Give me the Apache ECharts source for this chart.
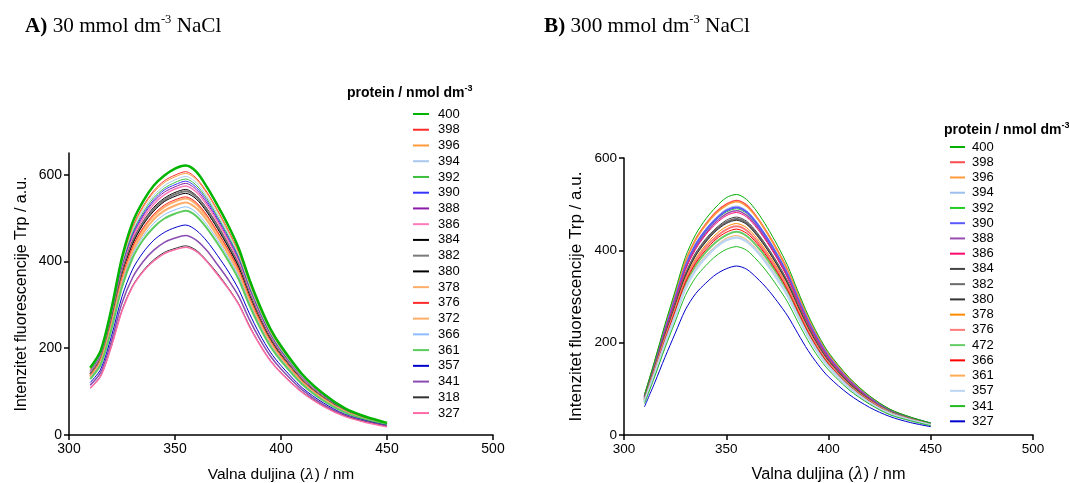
<!DOCTYPE html>
<html><head><meta charset="utf-8">
<script src="https://cdn.jsdelivr.net/npm/echarts@6/dist/echarts.min.js"></script>
<style>html,body{margin:0;padding:0;background:#fff}#c{width:1069px;height:483px}</style>
</head><body><div id="c"></div>
<script>
// shared wavelength grid (nm)
const wavelengths = [310,315,320,325,330,335,340,345,350,355,360,365,370,375,380,385,390,395,400,410,420,430,440,450];
const xTicks = [300,350,400,450,500];
const yTicksA = [0,200,400,600];
const yTicksB = [0,200,400,600];

// ---- Panel A: 30 mmol dm-3 NaCl ----
const aLabels = ['400','398','396','394','392','390','388','386','384','382','380','378','376','372','366','361','357','341','318','327'];
const a400 = [155,195,291,409,490,539,575,598,614,621,607,572,530,484,431,360,298,245,205,140,95,62,42,28];
const a398 = [152,191,285,401,480,528,563,586,599,607,592,560,519,473,422,352,291,240,200,137,93,61,41,27];
const a396 = [151,190,283,398,476,525,559,582,595,603,589,557,516,470,419,350,289,238,199,136,92,60,41,27];
const a394 = [149,188,280,393,471,519,552,575,588,596,582,550,510,465,414,346,286,235,197,135,91,60,41,27];
const a392 = [148,186,277,389,466,513,547,569,582,590,576,545,504,460,410,342,283,233,195,133,90,59,40,27];
const a390 = [146,184,275,386,462,509,542,565,577,585,571,540,500,456,407,339,281,231,193,132,90,59,40,26];
const a388 = [145,183,273,383,458,505,538,560,572,580,566,535,496,452,403,336,278,229,191,131,89,58,39,26];
const a386 = [144,181,270,379,453,499,532,554,567,574,560,530,491,448,399,333,276,227,189,130,88,57,39,26];
const a384 = [142,178,266,374,447,492,525,546,559,566,552,522,484,441,393,328,272,224,187,128,87,57,38,25];
const a382 = [140,177,264,371,444,489,521,542,555,562,549,519,481,438,391,326,270,222,185,127,86,56,38,25];
const a380 = [139,175,262,368,440,485,516,538,550,557,544,514,476,434,387,323,267,220,184,126,85,56,38,25];
const a378 = [136,172,256,360,431,474,505,526,538,545,532,503,466,425,379,316,262,215,180,123,83,55,37,25];
const a376 = [137,173,258,362,434,478,509,530,542,549,536,507,469,428,382,318,264,217,181,124,84,55,37,25];
const a372 = [134,169,252,354,423,466,497,517,529,536,523,495,458,418,373,311,257,212,177,121,82,54,36,24];
const a366 = [132,166,247,347,416,458,488,508,519,526,513,485,450,410,366,305,252,208,174,119,80,53,36,24];
const a361 = [129,163,243,341,408,450,479,499,510,517,505,477,442,403,359,300,248,204,171,117,79,52,35,23];
const a357 = [121,152,227,319,382,421,449,467,478,484,472,447,414,378,336,281,232,191,160,109,74,48,33,22];
const a341 = [115,145,216,304,363,400,426,444,454,460,449,425,393,359,320,267,221,182,152,104,70,46,31,21];
const a318 = [109,137,205,288,344,379,404,421,430,436,426,402,373,340,303,253,209,172,144,99,67,44,30,20];
const a327 = [108,136,204,286,342,377,401,418,427,433,423,400,370,338,301,251,208,171,143,98,66,43,29,19];

// ---- Panel B: 300 mmol dm-3 NaCl ----
const bLabels = ['400','398','396','394','392','390','388','386','384','382','380','378','376','472','366','361','357','341','327'];
const b400 = [87,161,239,312,385,434,468,494,514,521,510,484,450,411,367,312,260,216,179,125,85,56,39,26];
const b398 = [85,157,234,305,376,424,457,483,500,508,498,472,439,401,358,305,254,211,175,122,83,55,38,25];
const b396 = [84,157,232,303,374,422,455,480,497,505,495,470,437,399,356,303,253,210,174,121,82,55,38,25];
const b394 = [83,154,228,298,367,414,446,471,489,496,486,461,429,392,350,298,248,206,171,119,81,54,37,25];
const b392 = [82,152,225,294,363,409,441,466,483,490,480,456,424,387,345,294,245,203,169,118,80,53,37,25];
const b390 = [82,153,227,296,365,412,444,468,486,493,483,458,426,389,348,296,247,205,170,118,80,53,37,25];
const b388 = [81,151,224,292,360,406,437,462,479,486,476,452,420,384,343,292,243,202,168,117,79,52,36,24];
const b386 = [80,149,222,289,357,402,434,458,475,482,472,448,417,381,340,289,241,200,166,116,79,52,36,24];
const b384 = [79,146,217,283,349,394,425,448,465,472,463,439,408,373,333,283,236,196,163,113,77,51,35,24];
const b382 = [78,145,215,281,346,391,421,445,461,468,459,435,405,370,330,281,234,194,161,112,76,51,35,23];
const b380 = [78,144,214,279,344,388,418,442,458,465,456,432,402,367,328,279,232,193,160,112,76,50,35,23];
const b378 = [76,142,211,275,339,382,412,435,451,458,449,426,396,362,323,275,229,190,158,110,75,49,34,23];
const b376 = [75,140,208,271,334,377,407,429,445,452,443,420,391,357,319,271,226,188,156,108,74,49,34,23];
const b472 = [73,136,202,264,326,367,396,418,433,440,431,409,381,348,310,264,220,183,152,106,72,48,33,22];
const b366 = [74,138,205,268,330,372,401,424,439,446,437,415,386,352,314,268,223,185,154,107,73,48,33,22];
const b361 = [72,134,199,259,320,361,389,410,426,432,423,402,374,341,305,259,216,179,149,104,70,47,32,22];
const b357 = [71,133,197,257,317,357,385,407,422,428,419,398,370,338,302,257,214,178,148,103,70,46,32,21];
const b341 = [68,126,188,245,302,341,367,388,402,408,400,379,353,322,288,245,204,169,141,98,67,44,31,20];
const b327 = [61,113,168,220,271,306,329,348,360,366,359,340,317,289,258,220,183,152,126,88,60,40,27,18];

const aSeriesData = [a400,a398,a396,a394,a392,a390,a388,a386,a384,a382,a380,a378,a376,a372,a366,a361,a357,a341,a318,a327];
const bSeriesData = [b400,b398,b396,b394,b392,b390,b388,b386,b384,b382,b380,b378,b376,b472,b366,b361,b357,b341,b327];

// styles (kept apart from data)
const aColors = ['#00b400','#ff2a2a','#ff9a3c','#a9c8ee','#3cbf3c','#3535ff','#8a1aa8','#ff7ab8','#000000','#7a7a7a','#000000','#ffad6a','#ff2a2a','#ffad6a','#8cbcff','#5ccc5c','#0000cc','#8a4cb0','#333333','#ff6aa8'];
const aWidths = [2.5,1,1,1,1,1,1,1.5,1,2,1,2,1,2,1,2,1,1.5,1,1.5];
const bColors = ['#00b000','#ff4d4d','#ff9a3c','#9dbfee','#22cc22','#5a5aff','#9a4cb0','#ff0a6c','#444444','#6a6a6a','#333333','#ff8a00','#ff7a7a','#66cc66','#ff0000','#ffaa55','#bcd5f2','#22bb22','#0000cc'];
const bWidths = [1,1.5,1.5,1,1,2,1.5,1,1,2,1,1,2,2,1,1,2.5,1,1];

const sans = 'Liberation Sans, Arial, sans-serif';
const serif = 'Liberation Serif, Times New Roman, serif';

function mkSeries(prefix, labels, datas, colors, widths, axisIdx) {
  return labels.map((lab, k) => ({
    type: 'line', name: prefix + lab, xAxisIndex: axisIdx, yAxisIndex: axisIdx,
    data: wavelengths.map((w, i) => [w, datas[k][i]]),
    symbol: 'none', showSymbol: false, smooth: 0.3,
    lineStyle: { color: colors[k], width: widths[k] },
    itemStyle: { color: colors[k] },
    z: k === 0 ? 3 : 2, animation: false
  }));
}

function mkX(idx, fs, nfs) {
  return {
    type: 'value', gridIndex: idx, min: 300, max: 500, interval: 50,
    axisLine: { show: true, onZero: false, lineStyle: { color: '#000', width: 1.5 } },
    axisTick: { show: true, inside: false, length: 5, lineStyle: { color: '#000', width: 1.5 } },
    axisLabel: { color: '#000', fontSize: fs, fontFamily: sans, margin: 7 },
    splitLine: { show: false },
    name: '{n|Valna duljina (}{l|λ}{n|) / nm}', nameLocation: 'middle', nameGap: 32,
    nameTextStyle: { rich: { n: { fontSize: nfs, fontFamily: sans, color: '#000' }, l: { fontSize: nfs, fontFamily: 'DejaVu Serif, serif', fontStyle: 'italic', color: '#000' } } }
  };
}
function mkY(idx, max, ticks, fs, nfs) {
  return {
    type: 'value', gridIndex: idx, min: 0, max: max,
    axisLine: { show: true, lineStyle: { color: '#000', width: 1.5 } },
    axisTick: { show: true, inside: false, length: 5, customValues: ticks, lineStyle: { color: '#000', width: 1.5 } },
    axisLabel: { color: '#000', fontSize: fs, fontFamily: sans, margin: 7, customValues: ticks },
    splitLine: { show: false },
    name: 'Intenzitet fluorescencije Trp / a.u.', nameLocation: 'middle', nameGap: 39,
    nameTextStyle: { fontSize: nfs, fontFamily: sans, color: '#000' }
  };
}

const chart = echarts.init(document.getElementById('c'), null, { renderer: 'canvas' });
const supRich = (fs, sfs) => ({
  b: { fontSize: fs, fontFamily: serif, fontWeight: 'bold', color: '#000', lineHeight: 26, verticalAlign: 'bottom' },
  n: { fontSize: fs, fontFamily: serif, fontWeight: 'normal', color: '#000', lineHeight: 26, verticalAlign: 'bottom' },
  s: { fontSize: sfs, fontFamily: serif, fontWeight: 'normal', color: '#000', lineHeight: 26, verticalAlign: 'top', padding: [2, 0, 0, 0] }
});
const legRich = {
  n: { fontSize: 14, fontFamily: sans, fontWeight: 'bold', color: '#000', lineHeight: 16, verticalAlign: 'bottom' },
  s: { fontSize: 9, fontFamily: sans, fontWeight: 'bold', color: '#000', lineHeight: 16, verticalAlign: 'top' }
};

chart.setOption({
  backgroundColor: '#fff',
  animation: false,
  title: [
    { text: '{b|A)}{n| 30 mmol dm}{s|-3}{n| NaCl}', left: 25, top: 11, padding: 0, textStyle: { fontWeight: 'normal', rich: supRich(21.2, 12.5) } },
    { text: '{b|B)}{n| 300 mmol dm}{s|-3}{n| NaCl}', left: 544, top: 11, padding: 0, textStyle: { fontWeight: 'normal', rich: supRich(21.2, 12.5) } },
    { text: '{n|protein / nmol dm}{s|-3}', left: 347, top: 84, padding: 0, textStyle: { rich: legRich } },
    { text: '{n|protein / nmol dm}{s|-3}', left: 944, top: 121, padding: 0, textStyle: { rich: legRich } }
  ],
  grid: [
    { left: 69, right: 576, top: 153, bottom: 48, containLabel: false, outerBoundsMode: 'none' },
    { left: 624, right: 36, top: 158, bottom: 48, containLabel: false, outerBoundsMode: 'none' }
  ],
  xAxis: [mkX(0, 14, 15.5), mkX(1, 13.5, 16.3)],
  yAxis: [mkY(0, 650, yTicksA, 14, 16), mkY(1, 600, yTicksB, 13.5, 17)],
  legend: [
    { data: aLabels.map(l => 'A' + l), orient: 'vertical', left: 412, top: 107, padding: 0, itemWidth: 16, itemHeight: 10, itemGap: 1.74,
      itemStyle: { opacity: 0 }, formatter: n => n.slice(1), selectedMode: false,
      textStyle: { fontSize: 13, fontFamily: sans, color: '#000', lineHeight: 14, padding: [0, 0, 0, 4] } },
    { data: bLabels.map(l => 'B' + l), orient: 'vertical', left: 949, top: 140, padding: 0, itemWidth: 15, itemHeight: 10, itemGap: 1.24,
      itemStyle: { opacity: 0 }, formatter: n => n.slice(1), selectedMode: false,
      textStyle: { fontSize: 13, fontFamily: sans, color: '#000', lineHeight: 14, padding: [0, 0, 0, 2] } }
  ],
  series: [
    ...mkSeries('A', aLabels, aSeriesData, aColors, aWidths, 0),
    ...mkSeries('B', bLabels, bSeriesData, bColors, bWidths, 1)
  ]
});
</script></body></html>
